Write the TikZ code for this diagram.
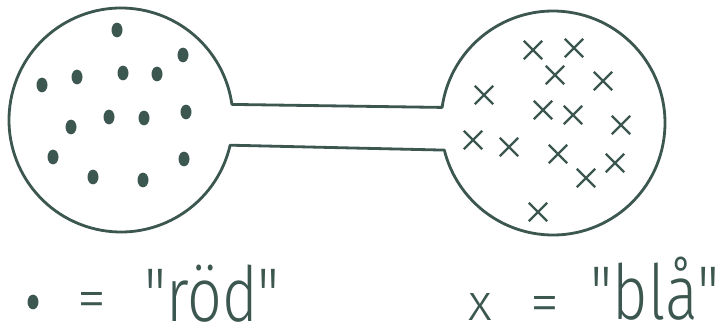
\documentclass[tikz,border=0pt]{standalone}
\usepackage{graphicx}
\usepackage{xcolor}
\usepackage{fontspec}
\newfontfamily\handfont{Fira Sans Light}
\usetikzlibrary{positioning,shapes.geometric,shapes.misc}
\definecolor{ink}{RGB}{60,86,80}

\begin{document}
\begin{tikzpicture}[x=0.3mm,y=-0.3mm,
ball/.style={circle,minimum size=67.2mm,inner sep=0pt,outer sep=0pt},
outline/.style={draw=ink,line width=2.4pt,line join=round},
dotmark/.style={ellipse,fill=ink,minimum width=3.3mm,minimum height=4.4mm,inner sep=0pt},
crossmark/.style={cross out,draw=ink,line width=2pt,minimum size=4.8mm,inner sep=0pt},
word/.style={font=\handfont\fontsize{65}{65}\selectfont,text=ink,inner sep=0pt},
keyx/.style={font=\handfont\fontsize{44}{44}\selectfont,text=ink,inner sep=0pt},
sign/.style={font=\handfont\fontsize{50}{50}\selectfont,text=ink,inner sep=0pt}
]
\useasboundingbox (0,0) rectangle (725,331);
% the two bulbs and the tube between them
\node[ball] (lball) at (121,120) {};
\node[ball] (rball) at (553,123) {};
\draw[outline] (lball.8) -- (rball.172)
  arc[start angle=-172,end angle=166,radius=112]
  -- (lball.-13)
  arc[start angle=13,end angle=352,radius=112] -- cycle;
% left bulb: dots
\node[dotmark] (rod1) at (117,30) {};
\node[dotmark] (rod2) at (183,55) {};
\node[dotmark] (rod3) at (42,85) {};
\node[dotmark] (rod4) at (77,77) {};
\node[dotmark] (rod5) at (123,73) {};
\node[dotmark] (rod6) at (157,74) {};
\node[dotmark] (rod7) at (71,127) {};
\node[dotmark] (rod8) at (109,117) {};
\node[dotmark] (rod9) at (144,118) {};
\node[dotmark] (rod10) at (186,112) {};
\node[dotmark] (rod11) at (53,157) {};
\node[dotmark] (rod12) at (93,177) {};
\node[dotmark] (rod13) at (143,180) {};
\node[dotmark] (rod14) at (184,159) {};
% right bulb: crosses
\node[crossmark] (bla1) at (533,50) {};
\node[crossmark] (bla2) at (574,48) {};
\node[crossmark] (bla3) at (555,75) {};
\node[crossmark] (bla4) at (603,81) {};
\node[crossmark] (bla5) at (484,95) {};
\node[crossmark] (bla6) at (543,110) {};
\node[crossmark] (bla7) at (573,115) {};
\node[crossmark] (bla8) at (621,125) {};
\node[crossmark] (bla9) at (473,140) {};
\node[crossmark] (bla10) at (509,147) {};
\node[crossmark] (bla11) at (558,154) {};
\node[crossmark] (bla12) at (615,163) {};
\node[crossmark] (bla13) at (586,178) {};
\node[crossmark] (bla14) at (538,212) {};
% legend
\node[dotmark] (rodkey) at (33,302) {};
\node[sign] (rodeq) at (92,305) {=};
\node[word,anchor=base] (rodtext) at (212,321) {\scalebox{0.8}[1]{"röd"}};
\node[keyx] (blakey) at (480,307) {x};
\node[sign] (blaeq) at (545,309) {=};
\node[word,anchor=base] (blatext) at (655,319) {\scalebox{0.8}[1]{"blå"}};
\end{tikzpicture}
\end{document}
